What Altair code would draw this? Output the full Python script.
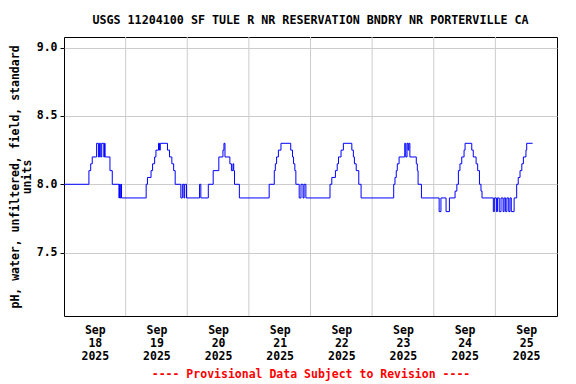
import altair as alt
import pandas as pd

# Change points of the 15-minute pH record: hours since 2025-09-18 00:00 and pH value
hours = [0, 9.7, 10.4, 11.0, 12.7, 13.4, 13.8, 14.3, 14.7, 15.5, 15.8, 16.0, 17.9, 18.8,
         21.4, 21.6, 21.9, 22.2, 22.4,
         32.0, 32.5, 33.9, 34.5, 35.3, 35.8, 36.8, 37.2, 37.5, 40.3, 41.1, 42.0, 42.7, 43.3,
         45.5, 46.1, 46.7, 47.0, 47.7,
         52.8, 53.3, 56.2, 58.1, 60.3, 61.9, 62.3, 62.7, 64.6, 65.2, 65.8, 66.1, 66.4, 68.3,
         79.9, 81.9, 82.3, 82.8, 83.5, 84.5, 88.3, 89.0, 89.4, 89.9, 90.3,
         91.6, 92.3, 93.1, 93.5, 94.2,
         103.6, 104.3, 105.7, 106.4, 106.9, 107.9, 108.8, 112.1, 112.7, 113.1, 113.8, 114.8, 115.7,
         128.4, 128.9, 129.4, 129.8, 130.5, 132.7, 133.1, 133.6, 134.0, 134.3, 134.7,
         137.2, 137.6, 137.9, 139.2,
         146.1, 146.8, 148.8, 150.1, 152.3, 153.0, 153.6, 154.2, 154.9, 155.8, 156.2,
         158.8, 159.4, 160.5, 161.1, 161.8, 162.4, 162.8,
         167.2, 167.6, 168.4, 168.8, 169.5, 170.2, 171.0, 171.4, 172.0, 172.5, 173.2, 173.7,
         174.2, 175.3, 176.3, 176.9, 177.6, 178.3, 178.9, 179.9, 180.2, 182.5]
ph = [8.0, 8.1, 8.15, 8.2, 8.3, 8.2, 8.3, 8.2, 8.3, 8.2, 8.3, 8.2, 8.1, 8.0,
      7.9, 8.0, 7.9, 8.0, 7.9,
      8.0, 8.05, 8.1, 8.15, 8.2, 8.25, 8.3, 8.25, 8.3, 8.25, 8.2, 8.15, 8.1, 8.0,
      7.9, 8.0, 7.9, 8.0, 7.9,
      8.0, 7.9, 8.0, 8.1, 8.2, 8.25, 8.3, 8.2, 8.15, 8.1, 8.15, 8.1, 8.0, 7.9,
      8.0, 8.1, 8.15, 8.2, 8.25, 8.3, 8.25, 8.2, 8.15, 8.1, 8.0,
      7.9, 8.0, 7.9, 8.0, 7.9,
      8.0, 8.05, 8.1, 8.15, 8.2, 8.25, 8.3, 8.25, 8.2, 8.15, 8.1, 8.0, 7.9,
      8.0, 8.05, 8.1, 8.15, 8.2, 8.3, 8.2, 8.3, 8.25, 8.3, 8.2,
      8.15, 8.1, 8.0, 7.9,
      7.8, 7.9, 7.8, 7.9, 7.95, 8.0, 8.1, 8.15, 8.2, 8.25, 8.3,
      8.25, 8.2, 8.15, 8.1, 8.0, 7.95, 7.9,
      7.8, 7.9, 7.8, 7.9, 7.8, 7.9, 7.8, 7.9, 7.8, 7.9, 7.8, 7.9,
      7.8, 7.9, 8.0, 8.05, 8.1, 8.15, 8.2, 8.25, 8.3, 8.3]

# Axis layout values
day_label_hours = [12, 36, 60, 84, 108, 132, 156, 180]
day_labels = ["18", "19", "20", "21", "22", "23", "24", "25"]
midnight_hours = [24, 48, 72, 96, 120, 144, 168]
y_ticks = [7.5, 8.0, 8.5, 9.0]

df = pd.DataFrame({"h": hours, "ph": ph})
grid_df = pd.DataFrame({"h": midnight_hours})

FONT = "DejaVu Sans Mono"
label_arr = "[" + ",".join("'%s'" % d for d in day_labels) + "]"
label_expr = "['Sep', " + label_arr + "[floor(datum.value / 24)], '2025']"

xscale = alt.Scale(domain=[0, 192], nice=False, zero=False)
yscale = alt.Scale(domain=[7.036, 9.078], nice=False, zero=False)

xaxis = alt.Axis(
    values=day_label_hours, labelExpr=label_expr, grid=False, ticks=False, domain=False,
    labelFont=FONT, labelFontSize=11.5, labelFontWeight="bold", labelColor="black",
    labelLineHeight=13, labelPadding=8, labelAngle=0, labelFlush=False,
    title="---- Provisional Data Subject to Revision ----",
    titleFont=FONT, titleFontSize=11.5, titleFontWeight="bold", titleColor="#ff0000",
    titlePadding=7,
)
yaxis = alt.Axis(
    values=y_ticks, format=".1f", grid=True, gridColor="#cccccc", gridWidth=1,
    ticks=True, tickSize=4, tickColor="black", domain=False,
    labelFont=FONT, labelFontSize=11.5, labelFontWeight="bold", labelColor="black",
    labelPadding=3,
    title=["pH, water, unfiltered, field, standard", "units"],
    titleFont=FONT, titleFontSize=11.5, titleFontWeight="bold", titleColor="black",
    titlePadding=4, titleLineHeight=12,
)

grid = alt.Chart(grid_df).mark_rule(color="#cccccc", strokeWidth=1).encode(
    x=alt.X("h:Q", scale=xscale, axis=xaxis)
)

line = alt.Chart(df).mark_line(color="#0000ff", strokeWidth=1, interpolate="step-after").encode(
    x=alt.X("h:Q", scale=xscale, axis=xaxis),
    y=alt.Y("ph:Q", scale=yscale, axis=yaxis),
)

chart = alt.layer(grid, line).properties(
    width=493,
    height=279,
    padding={"left": 56, "top": 29, "right": 11, "bottom": 68},
    autosize=alt.AutoSizeParams(type="none"),
    title=alt.TitleParams(
        "USGS 11204100 SF TULE R NR RESERVATION BNDRY NR PORTERVILLE CA",
        font=FONT, fontSize=11.7, fontWeight="bold", color="black",
        anchor="middle", offset=10,
    ),
    background="white",
).configure_view(stroke="black", strokeWidth=1)

chart.save("out.html", embed_options={"renderer": "svg", "actions": False})
